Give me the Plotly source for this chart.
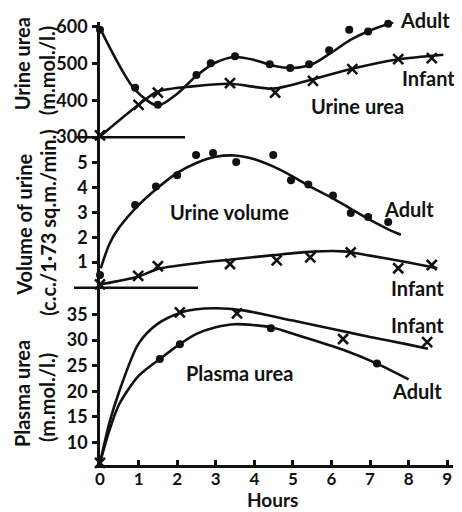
import plotly.graph_objects as go
from plotly.subplots import make_subplots

# ---------------- data ----------------
# Urine urea (m.mol./l.)
uu_adult_h = [0, 0.91, 1.5, 2.5, 2.87, 3.5, 4.4, 4.93, 5.42, 5.94, 6.46, 6.95, 7.47]
uu_adult_v = [592, 434, 388, 469, 501, 520, 498, 488, 498, 536, 592, 587, 608]
uu_adult_fit_h = [0, 0.9, 1.5, 2.0, 2.5, 3.0, 3.5, 4.0, 4.5, 5.0, 5.5, 6.0, 6.5, 7.0, 7.6]
uu_adult_fit_v = [596, 430, 386, 418, 467, 503, 518, 510, 494, 488, 498, 530, 565, 590, 612]

uu_infant_h = [0, 1.0, 1.5, 3.37, 4.54, 5.52, 6.54, 7.73, 8.6]
uu_infant_v = [305, 388, 421, 447, 421, 453, 485, 512, 515]
uu_infant_fit_h = [0, 1.0, 1.5, 2.4, 3.37, 4.5, 5.5, 6.5, 7.7, 8.9]
uu_infant_fit_v = [302, 388, 424, 438, 445, 432, 457, 485, 511, 524]

# Volume of urine (c.c./1.73 sq.m./min.)
vol_adult_h = [0, 0.91, 1.45, 2.0, 2.49, 2.93, 3.53, 4.49, 4.95, 5.4, 6.04, 6.5, 6.95, 7.47]
vol_adult_v = [0.48, 3.3, 4.05, 4.5, 5.32, 5.4, 5.04, 5.32, 4.3, 4.13, 3.69, 2.98, 2.82, 2.62]
vol_adult_fit_h = [0.02, 0.25, 0.5, 1.0, 1.5, 2.0, 2.5, 3.0, 3.5, 4.0, 4.5, 5.0, 5.5, 6.0, 6.5, 7.0, 7.5, 7.8]
vol_adult_fit_v = [0.75, 1.75, 2.4, 3.3, 4.0, 4.6, 5.0, 5.25, 5.3, 5.15, 4.85, 4.45, 4.0, 3.6, 3.15, 2.7, 2.3, 2.1]

vol_infant_h = [0, 0.99, 1.5, 3.37, 4.58, 5.45, 6.5, 7.73, 8.6]
vol_infant_v = [0.1, 0.44, 0.83, 0.92, 1.07, 1.19, 1.39, 0.75, 0.88]
vol_infant_fit_h = [0, 1.0, 1.5, 2.5, 3.4, 4.5, 5.5, 6.3, 7.0, 8.0, 8.74]
vol_infant_fit_v = [0.1, 0.42, 0.72, 0.95, 1.1, 1.28, 1.42, 1.43, 1.26, 0.98, 0.75]

# Plasma urea (m.mol./l.)
pu_adult_h = [1.55, 2.07, 4.43, 7.18]
pu_adult_v = [26.3, 29.2, 32.3, 25.4]
pu_adult_fit_h = [0, 0.25, 0.5, 1.0, 1.55, 2.07, 2.5, 3.0, 3.5, 4.43, 5.1, 6.3, 7.18, 8.0]
pu_adult_fit_v = [6, 12.5, 17.5, 23, 26.3, 29.2, 31.2, 32.5, 33.1, 32.5, 31, 28.1, 25.4, 22.3]

pu_infant_h = [0, 2.07, 3.55, 6.3, 8.48]
pu_infant_v = [6.0, 35.4, 35.2, 30.2, 29.6]
pu_infant_fit_h = [0, 0.25, 0.5, 1.0, 1.5, 2.07, 2.5, 3.0, 3.7, 5.0, 6.0, 7.0, 8.0, 8.5]
pu_infant_fit_v = [6, 14, 20, 29.3, 33.2, 35.3, 36, 36.2, 35.8, 33.8, 32.2, 30.6, 29.1, 28.3]

x_ticks = [0, 1, 2, 3, 4, 5, 6, 7, 8, 9]
uu_ticks = [300, 400, 500, 600]
vol_ticks = [1, 2, 3, 4, 5]
pu_ticks = [10, 15, 20, 25, 30, 35]

# ---------------- figure ----------------
# the page body has an 8px margin, so the figure is 8px smaller than the window
W, H = 454, 504
ML, MR, MT, MB = 92, 9, 7, 47
PW, PH = W - ML - MR, H - MT - MB
OFF = 8

def fx(px):
    return (px - OFF - ML) / PW

def fy(py):
    return (H - MB - (py - OFF)) / PH

FONT = "Lato"
INK = "#111111"

fig = make_subplots(rows=3, cols=1, shared_xaxes=True, vertical_spacing=0)

def add_series(row, fh, fv, mh, mv, sym):
    fig.add_trace(go.Scatter(x=fh, y=fv, mode="lines", line=dict(color=INK, width=2.6, shape="spline", smoothing=0.8),
                             showlegend=False, hoverinfo="skip"), row=row, col=1)
    if sym == "dot":
        mk = dict(symbol="circle", size=8, color=INK)
    else:
        mk = dict(symbol="x-thin", size=10, color=INK, line=dict(color=INK, width=2.6))
    fig.add_trace(go.Scatter(x=mh, y=mv, mode="markers", marker=mk, showlegend=False, cliponaxis=False),
                  row=row, col=1)

add_series(1, uu_adult_fit_h, uu_adult_fit_v, uu_adult_h, uu_adult_v, "dot")
add_series(1, uu_infant_fit_h, uu_infant_fit_v, uu_infant_h, uu_infant_v, "x")
add_series(2, vol_adult_fit_h, vol_adult_fit_v, vol_adult_h, vol_adult_v, "dot")
add_series(2, vol_infant_fit_h, vol_infant_fit_v, vol_infant_h, vol_infant_v, "x")
add_series(3, pu_adult_fit_h, pu_adult_fit_v, pu_adult_h, pu_adult_v, "dot")
add_series(3, pu_infant_fit_h, pu_infant_fit_v, pu_infant_h, pu_infant_v, "x")

tickfont = dict(family=FONT, size=18, color=INK, weight="bold")
xtickfont = dict(family=FONT, size=17, color=INK, weight="bold")

yax_common = dict(showline=True, linecolor=INK, linewidth=2.5, ticks="outside", ticklen=5, tickwidth=2.5,
                  tickcolor=INK, showgrid=False, zeroline=False, tickfont=tickfont, ticklabelstandoff=1)

fig.update_layout(
    width=W, height=H,
    margin=dict(l=ML, r=MR, t=MT, b=MB),
    paper_bgcolor="white", plot_bgcolor="white",
    showlegend=False,
    yaxis=dict(domain=[fy(132), 1], range=[300, 613], tickvals=uu_ticks, **yax_common),
    yaxis2=dict(domain=[fy(284), fy(132)], range=[0, 6.04], tickvals=vol_ticks, **yax_common),
    yaxis3=dict(domain=[0, fy(284)], range=[5.58, 40.4], tickvals=pu_ticks, **yax_common),
    xaxis=dict(range=[0, 9.15], visible=False),
    xaxis2=dict(range=[0, 9.15], visible=False),
    xaxis3=dict(range=[0, 9.15], tickvals=x_ticks, showline=True, linecolor=INK, linewidth=2.5,
                ticks="inside", ticklen=5, tickwidth=2.5, tickcolor=INK, showgrid=False, zeroline=False,
                tickfont=xtickfont, ticklabelstandoff=-3),
)

# separator lines between the panels
fig.add_shape(type="line", xref="paper", yref="paper", x0=fx(75), x1=fx(185), y0=fy(132), y1=fy(132),
              line=dict(color=INK, width=2.5))
fig.add_shape(type="line", xref="paper", yref="paper", x0=fx(74), x1=fx(198), y0=fy(285), y1=fy(285),
              line=dict(color=INK, width=2.5))

labfont = dict(family=FONT, size=20, color=INK, weight="bold")

def ann(text, px, py, angle=0, size=20):
    f = dict(labfont)
    f["size"] = size
    fig.add_annotation(text=text, xref="paper", yref="paper", x=fx(px), y=fy(py), showarrow=False,
                       xanchor="center", yanchor="middle", textangle=angle, font=f)

ann("Adult", 425, 13)
ann("Infant", 428, 72)
ann("Urine urea", 357, 100)
ann("Urine volume", 229, 208)
ann("Adult", 409, 205)
ann("Infant", 417, 285)
ann("Infant", 417, 323)
ann("Adult", 417, 390)
ann("Plasma urea", 239, 372)
ann("Hours", 272, 500, 0, 19)

ann("Urine urea", 22, 58, -90, 20)
ann("(m.mol./l.)", 47, 64, -90, 20)
ann("Volume of urine", 24, 221, -90, 20)
ann("(c.c./1·73 sq.m./min.)", 48, 219, -90, 20)
ann("Plasma urea", 22, 393, -90, 20)
ann("(m.mol./l.)", 47, 396, -90, 20)

fig.write_html("out.html")
